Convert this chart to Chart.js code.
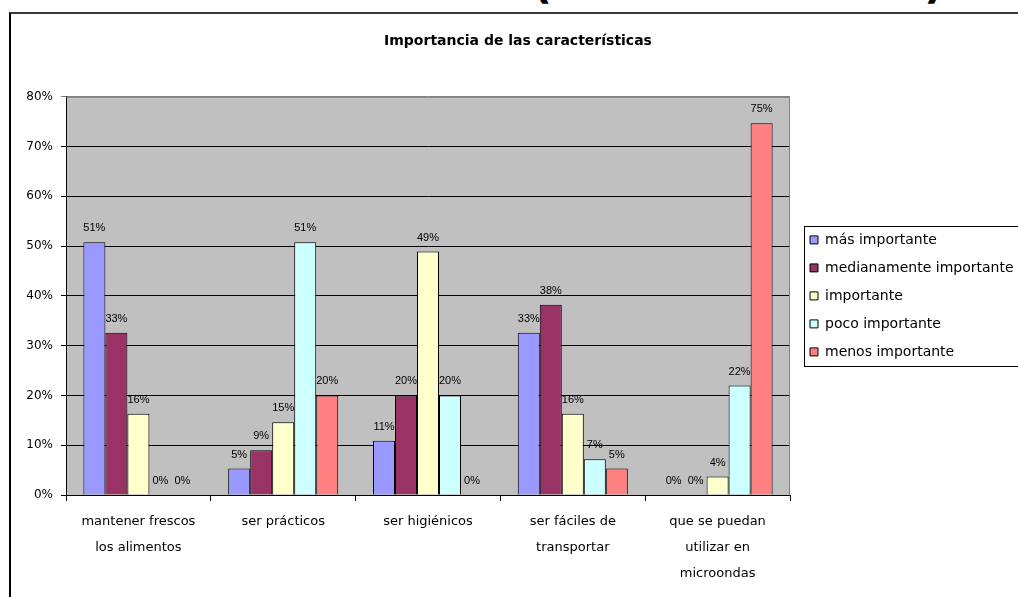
<!DOCTYPE html>
<html>
<head>
<meta charset="utf-8">
<script src="https://cdn.jsdelivr.net/npm/chart.js@4.4.0/dist/chart.umd.min.js"></script>
<style>
  html, body { margin: 0; padding: 0; background: #fff; overflow: hidden; }
  #wrap { position: relative; width: 1018px; height: 597px; }
  #marco { position: absolute; left: 9px; top: 12px; width: 1100px; height: 700px;
           border-left: 2px solid #000; border-top: 2px solid #3a3a3a; }
  .par { position: absolute; top: -43px; font: bold 44px "DejaVu Sans"; color: #000; }
  #caja { position: absolute; left: 0; top: 0; width: 1018px; height: 597px; }
</style>
</head>
<body>
<div id="wrap">
  <span class="par" style="left:532px">(</span>
  <span class="par" style="left:924px">)</span>
  <div id="marco"></div>
  <div id="caja"><canvas id="grafica"></canvas></div>
</div>
<script>
// categorias del eje x
const categorias = [
  ['mantener frescos', 'los alimentos'],
  'ser prácticos',
  'ser higiénicos',
  ['ser fáciles de', 'transportar'],
  ['que se puedan', 'utilizar en', 'microondas']
];

// porcentajes por serie
const masImportante = [50.8, 5.3, 10.9, 32.6, 0];
const medianamente = [32.6, 9.0, 20.0, 38.2, 0];
const importante = [16.3, 14.6, 48.9, 16.3, 3.7];
const pocoImportante = [0, 50.8, 20.0, 7.2, 22.0];
const menosImportante = [0, 20.0, 0, 5.3, 74.7];

const ticksY = [0, 10, 20, 30, 40, 50, 60, 70, 80];

const fondo = {
  id: 'fondo',
  beforeDraw(chart) {
    const a = chart.chartArea, c = chart.ctx;
    c.save();
    c.fillStyle = '#c0c0c0';
    c.fillRect(a.left, a.top, a.right - a.left, a.bottom - a.top);
    c.restore();
  },
  beforeDatasetsDraw(chart) {
    const a = chart.chartArea, c = chart.ctx;
    c.save();
    c.strokeStyle = '#808080';
    c.lineWidth = 1;
    c.beginPath();
    c.moveTo(a.left, a.top + 0.5);
    c.lineTo(a.right - 0.5, a.top + 0.5);
    c.lineTo(a.right - 0.5, a.bottom);
    c.stroke();
    c.restore();
  },
  afterDraw(chart) {
    // marco de la leyenda
    const lg = chart.legend, c = chart.ctx;
    const cy = (lg.top + lg.bottom) / 2;
    c.save();
    c.strokeStyle = '#000';
    c.lineWidth = 1;
    c.strokeRect(Math.round(lg.left + 8) + 0.5, Math.round(cy - 70) + 0.5, 400, 140);
    c.restore();
  }
};

// etiquetas encima de las barras
const etiquetas = {
  id: 'etiquetas',
  afterDatasetsDraw(chart) {
    const c = chart.ctx;
    c.save();
    c.font = '11px "Liberation Sans"';
    c.fillStyle = '#000';
    c.textAlign = 'center';
    c.textBaseline = 'middle';
    chart.data.datasets.forEach((ds, i) => {
      chart.getDatasetMeta(i).data.forEach((bar, j) => {
        c.fillText(Math.round(ds.data[j]) + '%', bar.x, bar.y - 14);
      });
    });
    c.restore();
  }
};

const ctx = document.getElementById('grafica');
new Chart(ctx, {
  type: 'bar',
  data: {
    labels: categorias,
    datasets: [
      { label: 'más importante', data: masImportante, backgroundColor: '#9999ff' },
      { label: 'medianamente importante', data: medianamente, backgroundColor: '#993366' },
      { label: 'importante', data: importante, backgroundColor: '#ffffcc' },
      { label: 'poco importante', data: pocoImportante, backgroundColor: '#ccffff' },
      { label: 'menos importante', data: menosImportante, backgroundColor: '#ff8080' }
    ].map(d => Object.assign(d, { borderColor: '#000', borderWidth: 1 }))
  },
  options: {
    responsive: true,
    maintainAspectRatio: false,
    animation: false,
    categoryPercentage: 0.76,
    barPercentage: 1,
    layout: { padding: { left: 18, top: 20, right: 0, bottom: 0 } },
    plugins: {
      title: {
        display: true,
        text: 'Importancia de las características',
        color: '#000',
        font: { family: 'DejaVu Sans', size: 14, weight: 'bold' },
        padding: { top: 13, bottom: 47 }
      },
      legend: {
        position: 'right',
        fullSize: false,
        maxWidth: 222,
        labels: {
          color: '#000',
          boxWidth: 8,
          boxHeight: 8,
          padding: 14,
          font: { family: 'DejaVu Sans', size: 14 }
        }
      },
      tooltip: { enabled: false }
    },
    scales: {
      x: {
        grid: { offset: true, drawOnChartArea: false, tickLength: 6, color: '#000' },
        border: { color: '#000' },
        ticks: {
          color: '#000',
          maxRotation: 0,
          autoSkip: false,
          padding: 8,
          font: { family: 'DejaVu Sans', size: 13, lineHeight: 2 }
        },
        afterFit(s) { s.height = 102; }
      },
      y: {
        min: 0,
        max: 80,
        afterBuildTicks(s) { s.ticks = ticksY.map(v => ({ value: v })); },
        grid: {
          color: c => (c.tick && c.tick.value === 80 ? '#808080' : '#000'),
          tickLength: 5
        },
        border: { color: '#000' },
        ticks: {
          color: '#000',
          padding: 8,
          callback: v => v + '%',
          font: { family: 'DejaVu Sans', size: 12 }
        },
        afterFit(s) { s.width = 48; }
      },
      // separacion entre el area y la leyenda
      hueco: {
        type: 'linear',
        position: 'right',
        display: true,
        grid: { display: false, drawTicks: false },
        border: { display: false },
        ticks: { display: false },
        afterFit(s) { s.width = 6; }
      }
    }
  },
  plugins: [fondo, etiquetas]
});
</script>
</body>
</html>
